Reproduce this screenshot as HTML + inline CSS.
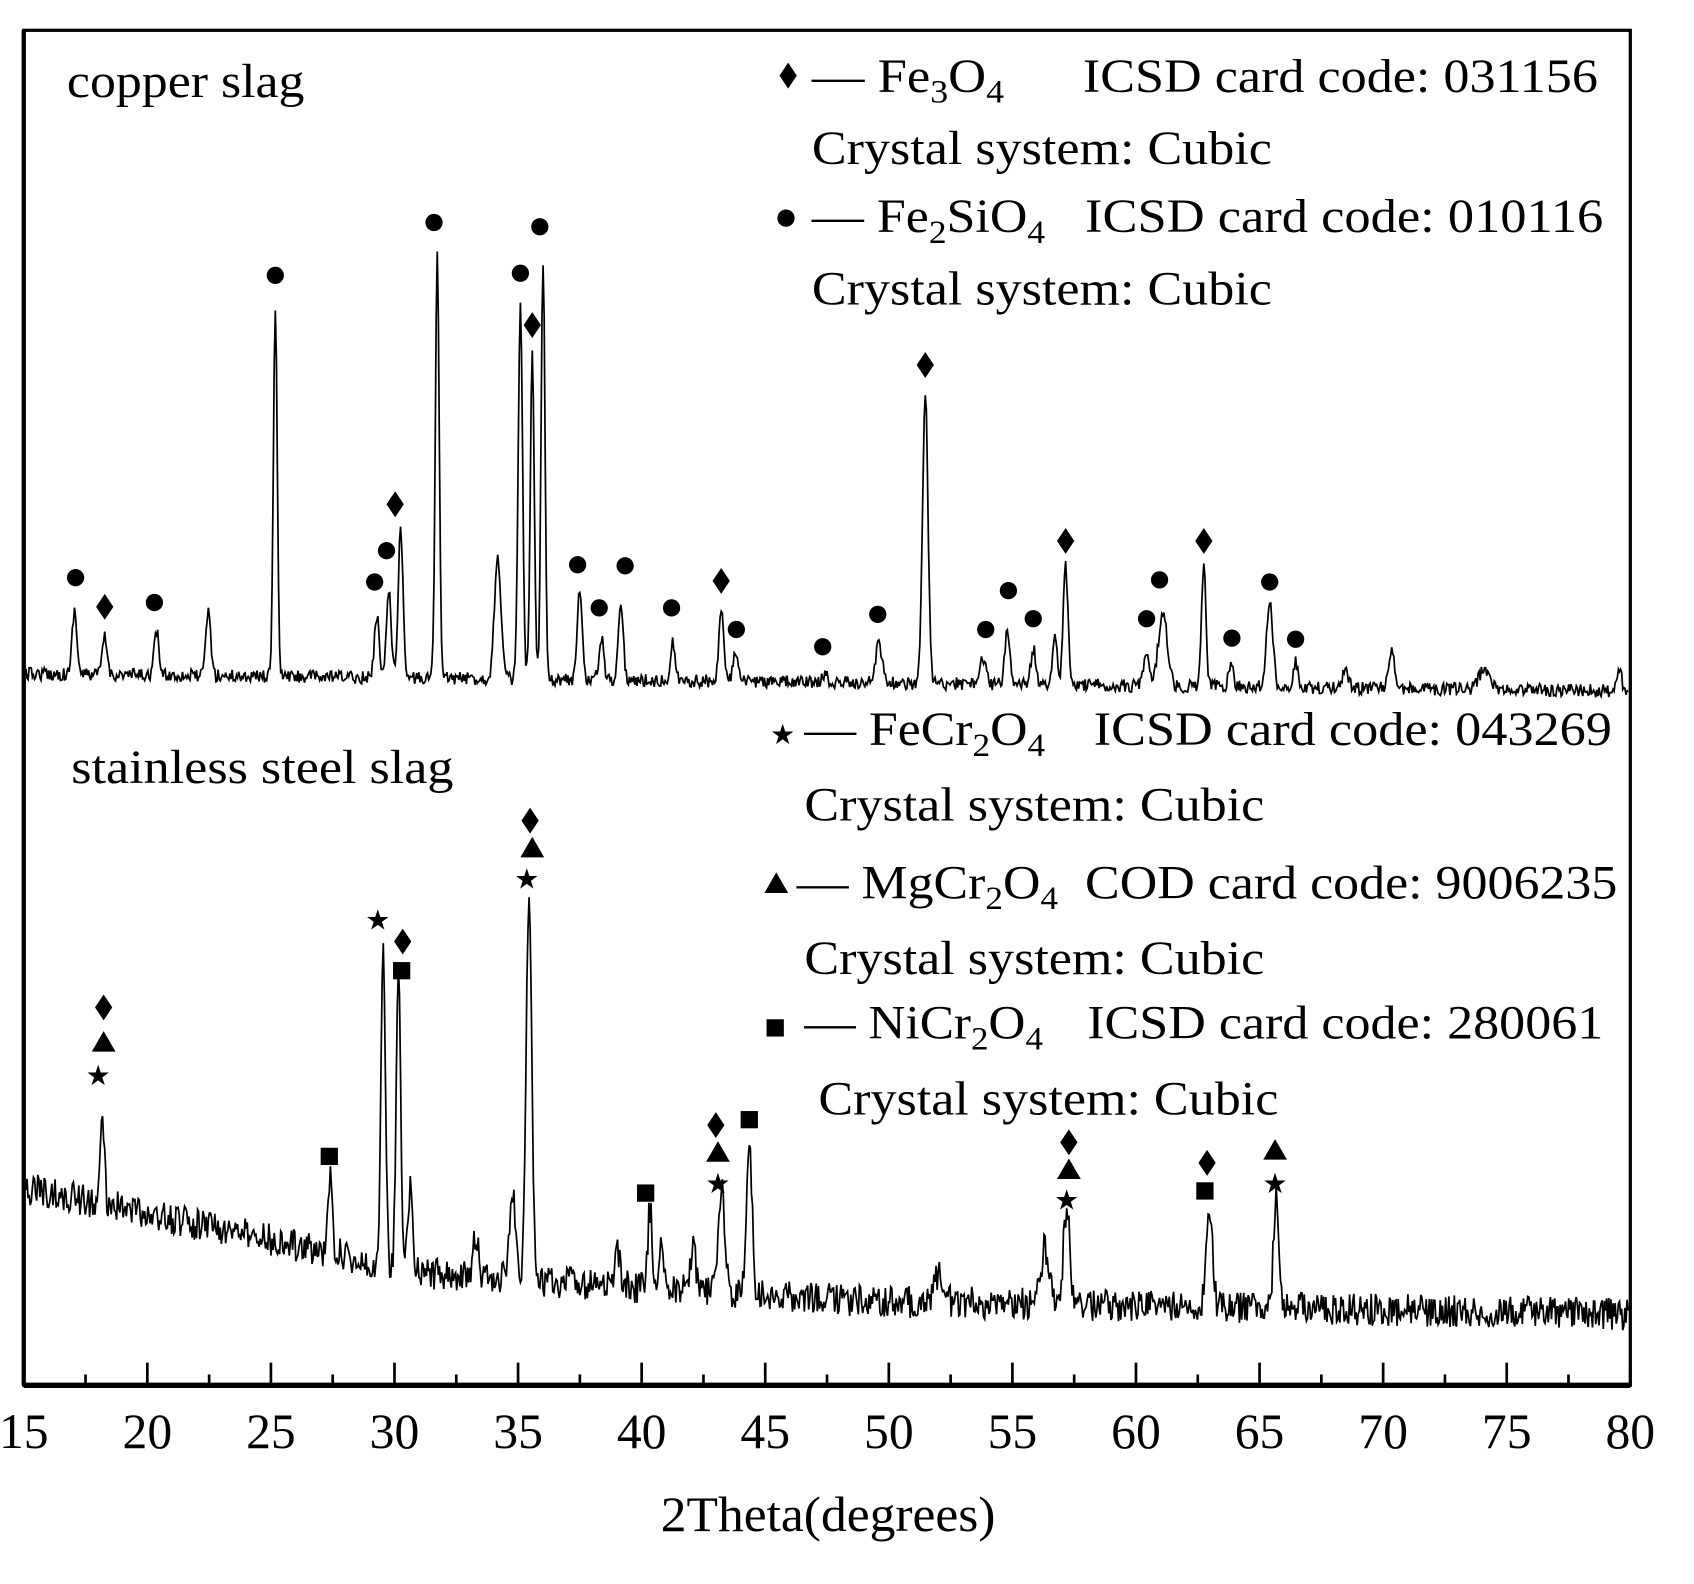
<!DOCTYPE html>
<html><head><meta charset="utf-8"><style>
html,body{margin:0;padding:0;background:#fff;}
svg{display:block}
text{font-family:"Liberation Serif",serif;fill:#000}
</style></head><body>
<svg id="s" width="1694" height="1584" viewBox="0 0 1569 1467" xmlns="http://www.w3.org/2000/svg">
<rect x="0" y="0" width="1569" height="1467" fill="#fff"/>
<g id="plot"></g>
<rect x="22" y="28" width="1488" height="1255" fill="none" stroke="#000" stroke-width="3"/>
<line x1="22" y1="1283" x2="1510" y2="1283" stroke="#000" stroke-width="5"/>
<line x1="22" y1="28" x2="22" y2="1283" stroke="#000" stroke-width="4"/>
<g id="ticks"></g>
<g font-size="46" text-anchor="middle" id="tl"></g>
<text x="612" y="1418" font-size="46" textLength="310" lengthAdjust="spacingAndGlyphs">2Theta(degrees)</text>
<text x="62" y="90" font-size="44" textLength="220" lengthAdjust="spacingAndGlyphs">copper slag</text>
<text x="66" y="725" font-size="44" textLength="354" lengthAdjust="spacingAndGlyphs">stainless steel slag</text>
<g font-size="44">
<text x="752" y="85" textLength="178" lengthAdjust="spacingAndGlyphs">— Fe<tspan font-size="30" dy="10">3</tspan><tspan dy="-10">O</tspan><tspan font-size="30" dy="10">4</tspan></text>
<text x="1003" y="85" textLength="477" lengthAdjust="spacingAndGlyphs">ICSD card code: 031156</text>
<text x="752" y="152" textLength="426" lengthAdjust="spacingAndGlyphs">Crystal system: Cubic</text>
<text x="752" y="215" textLength="216" lengthAdjust="spacingAndGlyphs">— Fe<tspan font-size="30" dy="10">2</tspan><tspan dy="-10">SiO</tspan><tspan font-size="30" dy="10">4</tspan></text>
<text x="1005" y="215" textLength="480" lengthAdjust="spacingAndGlyphs">ICSD card code: 010116</text>
<text x="752" y="282" textLength="426" lengthAdjust="spacingAndGlyphs">Crystal system: Cubic</text>
<text x="745" y="690" textLength="223" lengthAdjust="spacingAndGlyphs">— FeCr<tspan font-size="30" dy="10">2</tspan><tspan dy="-10">O</tspan><tspan font-size="30" dy="10">4</tspan></text>
<text x="1013" y="690" textLength="480" lengthAdjust="spacingAndGlyphs">ICSD card code: 043269</text>
<text x="745" y="760" textLength="426" lengthAdjust="spacingAndGlyphs">Crystal system: Cubic</text>
<text x="738" y="832" textLength="242" lengthAdjust="spacingAndGlyphs">— MgCr<tspan font-size="30" dy="10">2</tspan><tspan dy="-10">O</tspan><tspan font-size="30" dy="10">4</tspan></text>
<text x="1005" y="832" textLength="493" lengthAdjust="spacingAndGlyphs">COD card code: 9006235</text>
<text x="745" y="902" textLength="426" lengthAdjust="spacingAndGlyphs">Crystal system: Cubic</text>
<text x="745" y="962" textLength="221" lengthAdjust="spacingAndGlyphs">— NiCr<tspan font-size="30" dy="10">2</tspan><tspan dy="-10">O</tspan><tspan font-size="30" dy="10">4</tspan></text>
<text x="1007" y="962" textLength="478" lengthAdjust="spacingAndGlyphs">ICSD card code: 280061</text>
<text x="758" y="1032" textLength="426" lengthAdjust="spacingAndGlyphs">Crystal system: Cubic</text>
</g>
<g id="mk"></g>
</svg>
<script>
var NS="http://www.w3.org/2000/svg";
function el(p,t,a){var e=document.createElementNS(NS,t);for(var k in a)e.setAttribute(k,a[k]);p.appendChild(e);return e;}
var seed=12345;function rnd(){seed=(seed*16807)%2147483647;return seed/2147483647;}
var plot=document.getElementById('plot');
function trace(base,peaks,amp){
  var d="";
  for(var x=24;x<=1508;x+=1){
    var b=base(x),y=b+(rnd()-0.5)*amp*2;
    for(var i=0;i<peaks.length;i++){var p=peaks[i],w=p[2]||2.2;var dx=x-p[0];y-= (b-p[1])*Math.exp(-dx*dx/(2*w*w));}
    d+=(x==24?"M":"L")+x+" "+y.toFixed(1);
  }
  el(plot,'path',{d:d,fill:'none',stroke:'#000','stroke-width':1.6});
}
function cb(x){return 624+(x-22)/1488*16;}
trace(cb,[[69,565],[97,590],[145,585],[193,565],[255,290,1.8],[349,570],[360,545],[371,490],[405,237,1.8],[461,515,3],[482,285,2],[493,330,1.8],[503,240,1.8],[537,545],[557,590],[575,555],[623,595],[668,565],[681,605],[764,625],[814,595,3],[857,365,2.5],[910,610,3],[933,580],[957,600],[977,590],[987,525],[1062,605,3],[1077,565,4],[1115,520,2],[1140,615],[1176,560,3],[1200,613],[1246,620,3],[1289,605,3],[1375,620,5],[1500,622]],6);
function sb(x){if(x<400)return 1100+(x-22)/378*80;if(x<800)return 1180+(x-400)/400*25;return 1205+(x-800)/710*12;}
trace(sb,[[95,1030,1.8],[306,1090,2],[355,875,2],[369,895,2],[380,1100,2],[441,1140],[475,1110,3],[490,820,2.5],[572,1160],[602,1120,2],[612,1150],[642,1150],[668,1100,3],[694,1050,2.5],[870,1180,4],[968,1155,4],[988,1120,3],[1120,1115,3],[1182,1110,2.5]],15);
var tk=document.getElementById('ticks'),tl=document.getElementById('tl');
for(var v=15;v<=80;v+=2.5){var x=22+(v-15)*1488/65;var maj=(v%5==0);
 el(tk,'line',{x1:x,y1:1283,x2:x,y2:maj?1262:1273,stroke:'#000','stroke-width':2.5});
 if(maj){var t=el(tl,'text',{x:x,y:1341});t.textContent=v;}}
var mk=document.getElementById('mk');
function circ(x,y){el(mk,'circle',{cx:x,cy:y,r:8});}
function dia(x,y){el(mk,'polygon',{points:(x)+","+(y-12)+" "+(x+8)+","+y+" "+x+","+(y+12)+" "+(x-8)+","+y});}
function tri(x,y){el(mk,'polygon',{points:x+","+(y-10)+" "+(x+11)+","+(y+9)+" "+(x-11)+","+(y+9)});}
function sq(x,y){el(mk,'rect',{x:x-8,y:y-8,width:16,height:16});}
function star(x,y){var t=el(mk,'text',{x:x,y:y+9,'font-size':26,'text-anchor':'middle','font-family':'DejaVu Sans,sans-serif'});t.textContent='★';}
[[70,535],[143,558],[255,255],[347,539],[358,510],[402,206],[482,253],[500,210],[535,523],[555,563],[579,524],[622,563],[682,583],[762,599],[813,569],[913,583],[934,547],[957,573],[1062,573],[1074,537],[1141,591],[1176,539],[1200,592],[728,202]].forEach(function(p){circ(p[0],p[1]);});
[[97,562],[366,467],[493,301],[668,538],[857,338],[987,501],[1115,501],[730,70],[96,933],[373,872],[491,760],[663,1042],[990,1058],[1118,1077]].forEach(function(p){dia(p[0],p[1]);});
[[96,965],[493,785],[665,1067],[990,1083],[1181,1065],[719,818]].forEach(function(p){tri(p[0],p[1]);});
[[91,996],[350,852],[488,814],[665,1096],[988,1111],[1181,1096],[725,680]].forEach(function(p){star(p[0],p[1]);});
[[305,1071],[372,899],[598,1105],[694,1037],[1116,1103],[718,952]].forEach(function(p){sq(p[0],p[1]);});
</script>
</body></html>
